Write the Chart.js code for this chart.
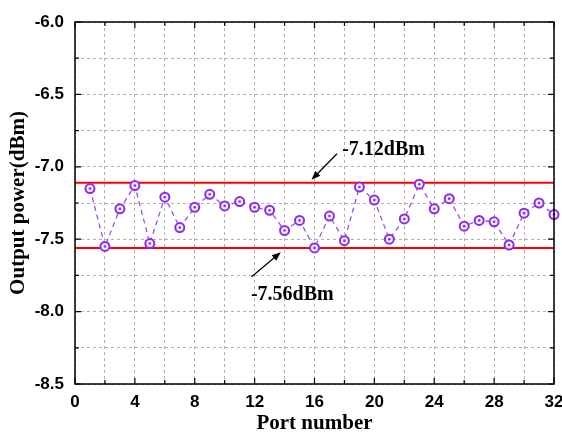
<!DOCTYPE html>
<html>
<head>
<meta charset="utf-8">
<script src="https://cdn.jsdelivr.net/npm/chart.js@4.4.1/dist/chart.umd.min.js"></script>
<style>
	html, body { margin: 0; padding: 0; background: #ffffff; overflow: hidden; }
	#wrap { width: 562px; height: 432px; }
</style>
</head>
<body>
<div id="wrap"><canvas id="powerChart" width="562" height="432"></canvas></div>
<script>
//	Port numbers on the x axis
var portNumbers = [1, 2, 3, 4, 5, 6, 7, 8, 9, 10, 11, 12, 13, 14, 15, 16,
	17, 18, 19, 20, 21, 22, 23, 24, 25, 26, 27, 28, 29, 30, 31, 32];
//	Measured output power of each port (dBm)
var outputPower = [-7.15, -7.55, -7.29, -7.13, -7.53, -7.21, -7.42, -7.28,
	-7.19, -7.27, -7.24, -7.28, -7.30, -7.44, -7.37, -7.56,
	-7.34, -7.51, -7.14, -7.23, -7.50, -7.36, -7.12, -7.29,
	-7.22, -7.41, -7.37, -7.38, -7.54, -7.32, -7.25, -7.33];
//	Max / min reference levels (dBm)
var maxLevel = -7.11;
var minLevel = -7.56;
var levelSpan = [0, 32];
//	Annotation labels, in data units
var labelTexts = ['-7.12dBm', '-7.56dBm'];
var labelX = [17.85, 11.75];
var labelY = [-6.885, -7.885];
//	Arrows (tail -> head), in data units
var arrowFromX = [17.5, 11.8];
var arrowFromY = [-6.91, -7.76];
var arrowToX = [15.8, 13.75];
var arrowToY = [-7.09, -7.59];

var serifFont = "'Liberation Serif', 'Times New Roman', serif";
var sansFont = "'Liberation Sans', Arial, sans-serif";
var purple = '#8a2cf0';

function toPoints(xs, ys) {
	var pts = [];
	for (let i = 0; i < xs.length; i++) {
		pts.push({ x: xs[i], y: ys[i] });
	}
	return pts;
}

/**
 *	Frame, inward ticks, arrows and text labels
 */
var framePlugin = {
	id: 'frame',
	afterDraw: function (chart) {
		var ctx = chart.ctx;
		var area = chart.chartArea;
		var xs = chart.scales.x;
		var ys = chart.scales.y;
		ctx.save();
		ctx.strokeStyle = '#000000';
		ctx.lineWidth = 1.5;
		ctx.strokeRect(area.left, area.top, area.right - area.left, area.bottom - area.top);

		//	inward ticks on all four sides
		ctx.lineWidth = 1.2;
		ctx.beginPath();
		xs.ticks.forEach(function (t) {
			var px = xs.getPixelForValue(t.value);
			var len = (t.value % 4 === 0) ? 6 : 4;
			ctx.moveTo(px, area.bottom);
			ctx.lineTo(px, area.bottom - len);
			ctx.moveTo(px, area.top);
			ctx.lineTo(px, area.top + len);
		});
		ys.ticks.forEach(function (t) {
			var py = ys.getPixelForValue(t.value);
			var major = Math.abs(t.value * 2 - Math.round(t.value * 2)) < 1e-6;
			var len = major ? 6 : 4;
			ctx.moveTo(area.left, py);
			ctx.lineTo(area.left + len, py);
			ctx.moveTo(area.right, py);
			ctx.lineTo(area.right - len, py);
		});
		ctx.stroke();

		//	arrows
		ctx.fillStyle = '#000000';
		ctx.lineWidth = 1.3;
		for (let i = 0; i < arrowFromX.length; i++) {
			var x0 = xs.getPixelForValue(arrowFromX[i]);
			var y0 = ys.getPixelForValue(arrowFromY[i]);
			var x1 = xs.getPixelForValue(arrowToX[i]);
			var y1 = ys.getPixelForValue(arrowToY[i]);
			var ang = Math.atan2(y1 - y0, x1 - x0);
			ctx.beginPath();
			ctx.moveTo(x0, y0);
			ctx.lineTo(x1 - 6 * Math.cos(ang), y1 - 6 * Math.sin(ang));
			ctx.stroke();
			ctx.beginPath();
			ctx.moveTo(x1, y1);
			ctx.lineTo(x1 - 9 * Math.cos(ang) + 3.5 * Math.sin(ang), y1 - 9 * Math.sin(ang) - 3.5 * Math.cos(ang));
			ctx.lineTo(x1 - 9 * Math.cos(ang) - 3.5 * Math.sin(ang), y1 - 9 * Math.sin(ang) + 3.5 * Math.cos(ang));
			ctx.closePath();
			ctx.fill();
		}

		//	text labels
		ctx.font = 'bold 20px ' + serifFont;
		ctx.textAlign = 'left';
		ctx.textBaseline = 'middle';
		for (let i = 0; i < labelTexts.length; i++) {
			ctx.fillText(labelTexts[i], xs.getPixelForValue(labelX[i]), ys.getPixelForValue(labelY[i]));
		}
		ctx.restore();
	}
};

var ctx = document.getElementById('powerChart');
var powerChart = new Chart(ctx, {
	type: 'line',
	data: {
		datasets: [{
				//	hollow circle markers joined by a dashed line
				data: toPoints(portNumbers, outputPower),
				borderColor: '#9a4cf5',
				borderWidth: 1.3,
				borderDash: [5, 4],
				pointRadius: 4.5,
				pointBorderWidth: 2,
				pointBorderColor: purple,
				pointBackgroundColor: '#f4eefe',
				fill: false,
				order: 1
			},
			{
				//	centre dot of each marker
				data: toPoints(portNumbers, outputPower),
				showLine: false,
				pointRadius: 1.3,
				pointBorderWidth: 0,
				pointBackgroundColor: purple,
				order: 0
			},
			{
				data: toPoints(levelSpan, [maxLevel, maxLevel]),
				borderColor: '#ff0000',
				borderWidth: 2,
				pointRadius: 0,
				order: 3
			},
			{
				data: toPoints(levelSpan, [minLevel, minLevel]),
				borderColor: '#ff0000',
				borderWidth: 2,
				pointRadius: 0,
				order: 3
			}
		]
	},
	options: {
		responsive: false,
		animation: false,
		clip: false,
		layout: {
			padding: { top: 22, right: 8, left: 0, bottom: 0 }
		},
		plugins: {
			legend: { display: false },
			tooltip: { enabled: false }
		},
		scales: {
			x: {
				type: 'linear',
				min: 0,
				max: 32,
				afterFit: function (scale) {
					scale.height = 48;
					scale.paddingLeft = 0;
					scale.paddingRight = 0;
				},
				border: { display: false, dash: [3, 3] },
				grid: {
					color: '#b0b0b0',
					lineWidth: 1,
					drawTicks: false,
					tickLength: 0
				},
				ticks: {
					stepSize: 2,
					padding: 8,
					color: '#000000',
					maxRotation: 0,
					autoSkip: false,
					font: { family: sansFont, size: 17, weight: 'bold' },
					callback: function (v) { return (v % 4 === 0) ? String(v) : ''; }
				},
				title: {
					display: true,
					text: 'Port number',
					color: '#000000',
					padding: { top: 0, bottom: -2 },
					font: { family: serifFont, size: 21, weight: 'bold', lineHeight: 1 }
				}
			},
			y: {
				min: -8.5,
				max: -6,
				afterFit: function (scale) {
					scale.width = 75;
					scale.paddingTop = 0;
					scale.paddingBottom = 0;
				},
				border: { display: false, dash: [3, 3] },
				grid: {
					color: '#b0b0b0',
					lineWidth: 1,
					drawTicks: false,
					tickLength: 0
				},
				ticks: {
					stepSize: 0.25,
					padding: 11,
					color: '#000000',
					autoSkip: false,
					font: { family: sansFont, size: 17, weight: 'bold' },
					callback: function (v) {
						return Math.abs(v * 2 - Math.round(v * 2)) < 1e-6 ? v.toFixed(1) : '';
					}
				},
				title: {
					display: true,
					text: 'Output power(dBm)',
					color: '#000000',
					padding: { top: 6, bottom: 0 },
					font: { family: serifFont, size: 21, weight: 'bold' }
				}
			}
		}
	},
	plugins: [framePlugin]
});
</script>
</body>
</html>
